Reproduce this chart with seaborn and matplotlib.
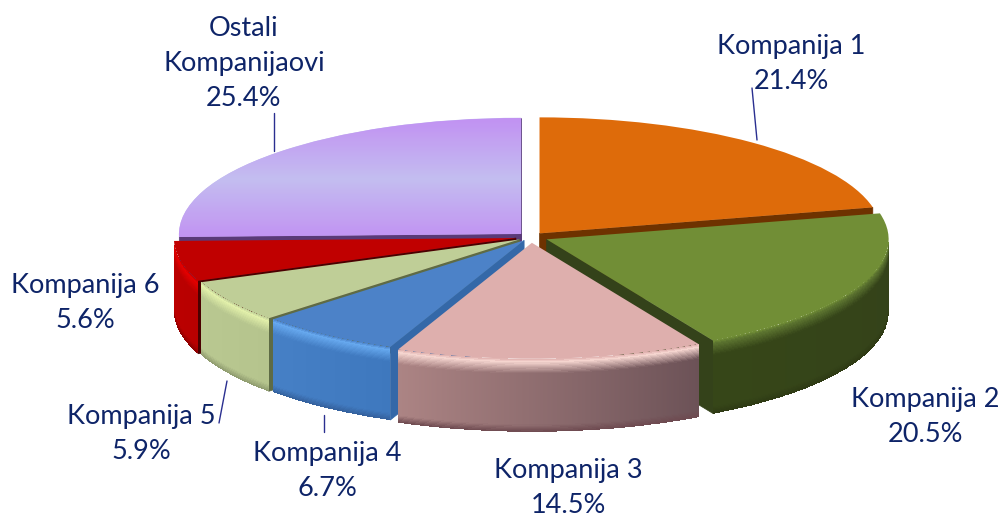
import numpy as np
import matplotlib
matplotlib.use("Agg")
import matplotlib.pyplot as plt
from matplotlib.patches import Polygon
import seaborn as sns

# Values
categories = ["Kompanija 1", "Kompanija 2", "Kompanija 3", "Kompanija 4",
              "Kompanija 5", "Kompanija 6", "Ostali\nKompanijaovi"]
shares = [21.4, 20.5, 14.5, 6.7, 5.9, 5.6, 25.4]
explode = [0.04, 0.05, 0.05, 0.035, 0.04, 0.045, 0.04]

top_colors = ["#DE6B0A", "#718E36", "#DEAFAD", "#4C82C8", "#BFCE97", "#C00000", "#C3BDF0"]
cut_colors = ["#6E3200", "#34421A", "#6E5052", "#3468A8", "#5E6B45", "#4A0000", "#5A3A78"]
# highlight, wall left, wall right, wall bottom
wall_colors = [None,
               ("#5C7430", "#364618", "#34421A", "#2E3A14"),
               ("#F6D6D0", "#AC8484", "#6C5257", "#6E4A50"),
               ("#66A8EE", "#4680C6", "#3E78BE", "#34609C"),
               ("#E2F0AA", "#B9C891", "#B5C48D", "#8E9A6E"),
               ("#E40000", "#BC0000", "#B80000", "#8C0000"),
               None]
purple_edge = "#C18FF2"
purple_mid = "#C3BDF0"

text_color = "#0E2468"
line_color = "#2A2F90"
# centre of each label, pixels
label_pos = [(791, 64), (925, 417), (568, 488), (327, 471), (141, 434), (85, 303), (244, 63)]
# leader lines, pixels
leaders = [((752, 88), (757, 140)), ((274, 113), (274, 151)),
           ((227, 381), (219, 423)), ((324, 415), (324, 432))]

# paint order, back to front
order = [6, 0, 5, 1, 4, 3, 2]

W, H = 1001, 518
cx, cy = 531, 237
rx, ry = 342, 116
depth = 73 / ry

sns.set_theme(style="white")
plt.rcParams["font.family"] = ["Lato", "DejaVu Sans"]

fig = plt.figure(figsize=(W / 100, H / 100), dpi=100)
ax = fig.add_axes([0, 0, 1, 1])

wedges, _ = ax.pie(shares, explode=explode, colors=top_colors, startangle=90,
                   counterclock=False, radius=1, wedgeprops={"linewidth": 0})
ax.set_aspect("auto")
ax.set_xlim(-cx / rx, (W - cx) / rx)
ax.set_ylim((cy - H) / ry, cy / ry)
ax.axis("off")


def px(x, y):
    return (x - cx) / rx, (cy - y) / ry


def rgb(c):
    return np.array(matplotlib.colors.to_rgb(c))


def draw_wall(wedge, colors, z):
    th = np.linspace(wedge.theta1, wedge.theta2, 240)
    th = th[np.sin(np.radians(th)) <= 0]
    if len(th) < 2:
        return
    hi, left, right, bottom = [rgb(c) for c in colors]
    top = rgb(wedge.get_facecolor()[:3])
    d = np.linspace(0, 1, 61)
    X = wedge.center[0] + np.outer(np.ones_like(d), np.cos(np.radians(th)))
    Y = wedge.center[1] + np.outer(np.ones_like(d), np.sin(np.radians(th))) - np.outer(d, np.full_like(th, depth))
    img = np.zeros((len(d) - 1, len(th) - 1, 3))
    for j in range(img.shape[1]):
        t = j / max(img.shape[1] - 1, 1)
        base = left * (1 - t) + right * t
        for i in range(img.shape[0]):
            f = (i + 0.5) / img.shape[0]
            if f < 0.04:
                c = top + (hi - top) * f / 0.04
            elif f < 0.2:
                c = hi + (base - hi) * (f - 0.04) / 0.16
            elif f > 0.9:
                c = base + (bottom - base) * (f - 0.9) / 0.1
            else:
                c = base
            img[i, j] = c
    mesh = ax.pcolormesh(X, Y, img, shading="flat", antialiased=False, zorder=z)
    mesh.set_edgecolor("none")


for n, i in enumerate(order):
    w = wedges[i]
    z = 2 + n * 5
    x0, y0 = w.center
    # walls along the straight cuts, only the ones facing the viewer
    for ang, normal in ((w.theta1, w.theta1 - 90), (w.theta2, w.theta2 + 90)):
        if np.sin(np.radians(normal)) >= 0:
            continue
        ex = x0 + np.cos(np.radians(ang))
        ey = y0 + np.sin(np.radians(ang))
        ax.add_patch(Polygon([(x0, y0), (ex, ey), (ex, ey - depth), (x0, y0 - depth)],
                             closed=True, fc=cut_colors[i], ec=cut_colors[i], lw=0.5, zorder=z))
    if wall_colors[i] is not None:
        draw_wall(w, wall_colors[i], z + 1)
    w.set_zorder(z + 2)

# the Ostali slice has a banded top
w = wedges[6]
gy = np.linspace(-0.05, 1.05, 101)
gx = np.array([-1.1, 0.1])
f = np.abs(np.linspace(-1, 1, 100))[:, None]
band = (rgb(purple_mid) * (1 - f) + rgb(purple_edge) * f)[:, None, :].reshape(100, 1, 3)
mesh = ax.pcolormesh(gx, gy, band, shading="flat", antialiased=False, zorder=w.get_zorder() + 1)
mesh.set_clip_path(w)

for (x1, y1), (x2, y2) in leaders:
    p1, p2 = px(x1, y1), px(x2, y2)
    ax.plot([p1[0], p2[0]], [p1[1], p2[1]], color=line_color, lw=1.0, zorder=60)

for name, share, pos in zip(categories, shares, label_pos):
    x, y = px(*pos)
    ax.text(x, y, f"{name}\n{share:.1f}%", ha="center", va="center", color=text_color,
            fontsize=19.5, linespacing=1.5, zorder=61)

fig.savefig("out.png", dpi=100, facecolor="white")
